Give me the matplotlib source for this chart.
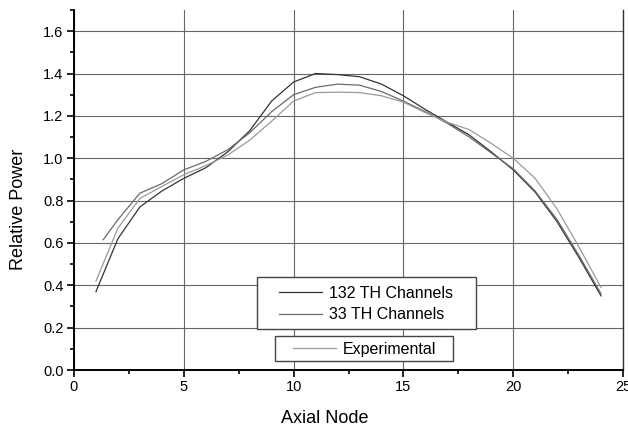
import numpy as np
import matplotlib
matplotlib.use("Agg")
import matplotlib.pyplot as plt
from matplotlib.patches import Rectangle
from matplotlib.ticker import MultipleLocator

plt.rcParams['font.family'] = ['Liberation Sans', 'DejaVu Sans']

# ==========================================
# DATA
# ==========================================
nodes = np.arange(1, 25)
power_132 = [0.37, 0.62, 0.77, 0.845, 0.905, 0.955, 1.03, 1.13, 1.27, 1.36,
             1.40, 1.395, 1.385, 1.35, 1.295, 1.23, 1.17, 1.11, 1.03, 0.945,
             0.84, 0.70, 0.53, 0.35]

nodes_33 = [1.33] + list(range(2, 25))
power_33 = [0.615, 0.71, 0.835, 0.88, 0.945, 0.985, 1.04, 1.12, 1.22, 1.30,
            1.335, 1.35, 1.345, 1.315, 1.27, 1.22, 1.165, 1.10, 1.025, 0.95,
            0.845, 0.71, 0.54, 0.36]

power_exp = [0.42, 0.67, 0.81, 0.867, 0.922, 0.965, 1.015, 1.085, 1.175, 1.27,
             1.31, 1.312, 1.31, 1.295, 1.265, 1.215, 1.17, 1.135, 1.07, 1.0,
             0.905, 0.76, 0.58, 0.39]

labels = ["132 TH Channels", "33 TH Channels", "Experimental"]
colors = ["#333333", "#6a6a6a", "#9a9a9a"]

# ==========================================
# FIGURE
# ==========================================
fig = plt.figure(figsize=(6.28, 4.28), dpi=100)
ax = fig.add_axes([74 / 628, 58 / 428, 549 / 628, 360 / 428])

l1, = ax.plot(nodes, power_132, color=colors[0], lw=0.9)
l2, = ax.plot(nodes_33, power_33, color=colors[1], lw=0.9)
l3, = ax.plot(nodes, power_exp, color=colors[2], lw=0.9)

ax.set_xlim(0, 25)
ax.set_ylim(0, 1.7)
ax.xaxis.set_major_locator(MultipleLocator(5))
ax.xaxis.set_minor_locator(MultipleLocator(2.5))
ax.yaxis.set_major_locator(MultipleLocator(0.2))
ax.yaxis.set_minor_locator(MultipleLocator(0.1))
ax.yaxis.set_major_formatter(plt.FormatStrFormatter("%.1f"))

ax.grid(which="major", color="#666666", lw=0.8)
ax.set_axisbelow(True)

ax.tick_params(which="both", direction="out", width=1.2, labelsize=10.5,
               colors="black", pad=2.5)
ax.tick_params(which="major", length=5)
ax.tick_params(which="minor", length=3)

ax.spines["top"].set_visible(False)
ax.spines["left"].set_linewidth(1.4)
ax.spines["bottom"].set_linewidth(1.4)
ax.spines["right"].set_linewidth(1.0)
ax.spines["right"].set_color("#333333")

ax.set_xlabel("Axial Node", fontsize=13)
ax.xaxis.set_label_coords(0.457, -0.11)
ax.set_ylabel("Relative Power", fontsize=13)
ax.yaxis.set_label_coords(-0.0856, 0.447)

# ==========================================
# LEGENDS (two separate boxes)
# ==========================================
leg1 = ax.legend([l1, l2], labels[:2], loc="center left",
                 bbox_to_anchor=(0.3734, 0.1833), frameon=False,
                 fontsize=11.5, handlelength=2.7, handletextpad=0.4,
                 labelspacing=0.4, borderpad=0, borderaxespad=0)
ax.add_artist(leg1)
leg2 = ax.legend([l3], labels[2:], loc="center left",
                 bbox_to_anchor=(0.3989, 0.0575), frameon=False,
                 fontsize=11.5, handlelength=2.7, handletextpad=0.4,
                 borderpad=0, borderaxespad=0)

for x0, y0, x1, y1 in [(0.3333, 0.1139, 0.7322, 0.2583),
                       (0.3661, 0.0250, 0.6903, 0.0944)]:
    ax.add_patch(Rectangle((x0, y0), x1 - x0, y1 - y0, transform=ax.transAxes,
                           facecolor="white", edgecolor="#444444", lw=1.0,
                           zorder=4))
leg1.set_zorder(5)
leg2.set_zorder(5)

fig.savefig("out.png", dpi=100)
